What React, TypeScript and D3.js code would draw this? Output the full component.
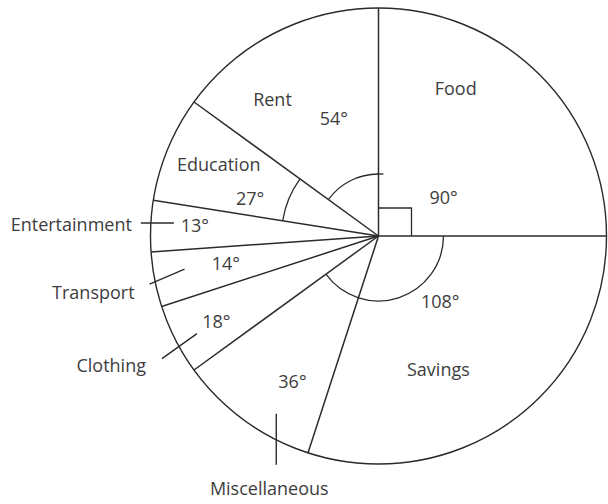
import * as d3 from "d3";

// budget split, in degrees of the circle
const categories = ["Food", "Savings", "Miscellaneous", "Clothing", "Transport", "Entertainment", "Education", "Rent"];
const degrees = [90, 108, 36, 18, 14, 13, 27, 54];
const degreeLabels = ["90°", "108°", "36°", "18°", "14°", "13°", "27°", "54°"];

// label placement: [fraction of slice angle, radius]
const degreeSpot = [[0.656, 76], [0.432, 90], [0.35, 169], [0.465, 183], [0.58, 155], [0.56, 184], [0.28, 134], [0.616, 126]];
const nameSpot: Record<string, number[]> = {
  Food: [0.306, 167],
  Savings: [0.609, 146],
  Education: [0.56, 175],
  Rent: [0.3, 173],
};

const width = 608, height = 504;
const cx = 378.5, cy = 236, R = 228;
const ink = "#2b2b2b";
const textColor = "#3d3d3d";
const font = "'Open Sans', 'DejaVu Sans', sans-serif";

const pt = (a: number, r: number) => [cx + r * Math.sin(a), cy - r * Math.cos(a)];

export default function App() {
  const slices = d3.pie<number>().sort(null).value((d) => d).startAngle(0).endAngle(2 * Math.PI)(degrees);
  const at = (i: number, f: number) => slices[i].startAngle + f * (slices[i].endAngle - slices[i].startAngle);
  const idx = (name: string) => categories.indexOf(name);

  const arcGen = d3.arc();
  const markArc = (r: number, a0: number, a1: number) =>
    arcGen({ innerRadius: r, outerRadius: r, startAngle: a0, endAngle: a1 }) as string;

  // boundaries from centre to rim
  const bounds = slices.map((s) => s.startAngle);

  // call-outs for the thin slices
  const ent = pt(at(idx("Entertainment"), 0.56), R);
  const tra = pt(at(idx("Transport"), 0.46), R);
  const clo = pt(at(idx("Clothing"), 0.39), R);
  const mis = pt(at(idx("Miscellaneous"), 0.24), R);
  const tDir = [0.919, -0.394];
  const cDir = [0.814, -0.581];
  const traOut = [tra[0] - 6 * tDir[0], tra[1] - 6 * tDir[1]];
  const traIn = [tra[0] + 32 * tDir[0], tra[1] + 32 * tDir[1]];
  const cloOut = [clo[0] - 21 * cDir[0], clo[1] - 21 * cDir[1]];
  const cloIn = [clo[0] + 22 * cDir[0], clo[1] + 22 * cDir[1]];

  const txt = { fontFamily: font, fontSize: 18, fill: textColor } as const;

  return (
    <svg width={width} height={height} style={{ position: "absolute", left: 0, top: 0, background: "#fff" }}>
      <circle cx={cx} cy={cy} r={R} fill="none" stroke={ink} strokeWidth={1.4} />
      {bounds.map((a, i) => {
        const [x, y] = pt(a, R);
        return <line key={i} x1={cx} y1={cy} x2={x} y2={y} stroke={ink} strokeWidth={1.5} />;
      })}

      {/* angle markers */}
      <g transform={`translate(${cx},${cy})`} fill="none" stroke={ink} strokeWidth={1.3}>
        <path d={markArc(62, slices[idx("Rent")].startAngle, slices[idx("Rent")].endAngle)} />
        <line x1={-1} y1={-62} x2={5} y2={-62} />
        <path d={markArc(97, slices[idx("Education")].startAngle, slices[idx("Education")].endAngle)} />
        <path d={markArc(65, slices[idx("Savings")].startAngle, slices[idx("Miscellaneous")].endAngle)} />
        <path d="M0,-28H33V0" />
      </g>

      {/* degree labels */}
      {degreeLabels.map((t, i) => {
        const [x, y] = pt(at(i, degreeSpot[i][0]), degreeSpot[i][1]);
        return (
          <text key={t} x={x} y={y} textAnchor="middle" dominantBaseline="central" {...txt}>
            {t}
          </text>
        );
      })}

      {/* names inside the big slices */}
      {Object.keys(nameSpot).map((n) => {
        const [x, y] = pt(at(idx(n), nameSpot[n][0]), nameSpot[n][1]);
        return (
          <text key={n} x={x} y={y} textAnchor="middle" dominantBaseline="central" {...txt}>
            {n}
          </text>
        );
      })}

      {/* call-out lines and names */}
      <g stroke={ink} strokeWidth={1.4}>
        <line x1={ent[0] - 10} y1={ent[1]} x2={ent[0] + 23} y2={ent[1]} />
        <line x1={traOut[0]} y1={traOut[1]} x2={traIn[0]} y2={traIn[1]} />
        <line x1={cloOut[0]} y1={cloOut[1]} x2={cloIn[0]} y2={cloIn[1]} />
        <line x1={mis[0]} y1={mis[1] - 26} x2={mis[0]} y2={mis[1] + 25} />
      </g>
      <text x={ent[0] - 19} y={ent[1] + 1} textAnchor="end" dominantBaseline="central" {...txt}>Entertainment</text>
      <text x={traOut[0] - 15} y={traOut[1] + 8} textAnchor="end" dominantBaseline="central" {...txt}>Transport</text>
      <text x={cloOut[0] - 16} y={cloOut[1] + 6} textAnchor="end" dominantBaseline="central" {...txt}>Clothing</text>
      <text x={mis[0] - 7} y={mis[1] + 48} textAnchor="middle" dominantBaseline="central" {...txt}>Miscellaneous</text>
    </svg>
  );
}
